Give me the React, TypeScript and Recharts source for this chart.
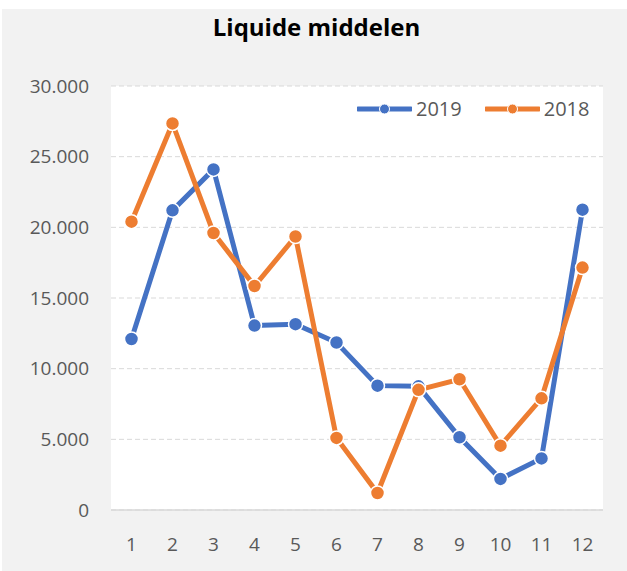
import { CartesianGrid, Line, LineChart, XAxis, YAxis } from "recharts";

const MONTHS = ["1", "2", "3", "4", "5", "6", "7", "8", "9", "10", "11", "12"];
const SERIES_2019 = [12100, 21200, 24100, 13050, 13150, 11850, 8800, 8750, 5150, 2200, 3650, 21250];
const SERIES_2018 = [20400, 27350, 19600, 15850, 19350, 5100, 1200, 8500, 9250, 4550, 7900, 17150];
const Y_TICKS = [0, 5000, 10000, 15000, 20000, 25000, 30000];

const BLUE = "#4472C4";
const ORANGE = "#ED7D31";
const FONT = "'Open Sans', 'Noto Sans', sans-serif";

const data = MONTHS.map((m, i) => ({
  month: m,
  y2019: SERIES_2019[i],
  y2018: SERIES_2018[i],
}));

const fmt = (v: number) => String(v).replace(/\B(?=(\d{3})+(?!\d))/g, ".");

function LegendBox() {
  const items = [
    { label: "2019", color: BLUE },
    { label: "2018", color: ORANGE },
  ];
  return (
    <div
      style={{
        position: "absolute",
        top: 88,
        left: 355,
        display: "flex",
        alignItems: "center",
        fontFamily: FONT,
      }}
    >
      {items.map((it, i) => (
        <div
          key={it.label}
          style={{ display: "flex", alignItems: "center", marginLeft: i ? 23 : 0 }}
        >
          <svg width={55} height={14}>
            <line x1={1} y1={7} x2={54} y2={7} stroke={it.color} strokeWidth={5} strokeLinecap="round" />
            <circle cx={27.5} cy={7} r={5} fill={it.color} stroke="#fff" strokeWidth={1} />
          </svg>
          <span style={{ fontSize: 20, color: "#595959", marginLeft: 4, lineHeight: "24px" }}>
            {it.label}
          </span>
        </div>
      ))}
    </div>
  );
}

export default function App() {
  return (
    <div
      style={{
        position: "absolute",
        left: 2,
        top: 9,
        width: 625,
        height: 562,
        background: "#f2f2f2",
        fontFamily: FONT,
      }}
    >
      <div
        style={{
          position: "absolute",
          left: 0,
          top: 3,
          width: 629,
          textAlign: "center",
          fontSize: 24,
          fontWeight: 700,
          lineHeight: "30px",
          color: "#000",
        }}
      >
        Liquide middelen
      </div>
      <LineChart
        width={625}
        height={562}
        data={data}
        margin={{ top: 77, right: 24, bottom: 21, left: 29 }}
      >
        <CartesianGrid vertical={false} stroke="#d9d9d9" strokeDasharray="5 3" fill="#ffffff" />
        <XAxis
          dataKey="month"
          height={40}
          padding={{ left: 20.5, right: 20.5 }}
          tickLine={false}
          tickMargin={22}
          axisLine={{ stroke: "#d9d9d9", strokeWidth: 1.5 }}
          tick={{ fill: "#595959", fontSize: 19, fontFamily: FONT }}
        />
        <YAxis
          width={80}
          domain={[0, 30000]}
          ticks={Y_TICKS}
          tickFormatter={fmt}
          axisLine={false}
          tickLine={false}
          tickMargin={16}
          tick={{ fill: "#595959", fontSize: 19, fontFamily: FONT }}
        />
        <Line
          dataKey="y2019"
          name="2019"
          stroke={BLUE}
          strokeWidth={5}
          dot={{ r: 7, fill: BLUE, stroke: "#fff", strokeWidth: 1.5 }}
          activeDot={false}
          isAnimationActive={false}
        />
        <Line
          dataKey="y2018"
          name="2018"
          stroke={ORANGE}
          strokeWidth={5}
          dot={{ r: 7, fill: ORANGE, stroke: "#fff", strokeWidth: 1.5 }}
          activeDot={false}
          isAnimationActive={false}
        />
      </LineChart>
      <LegendBox />
    </div>
  );
}
